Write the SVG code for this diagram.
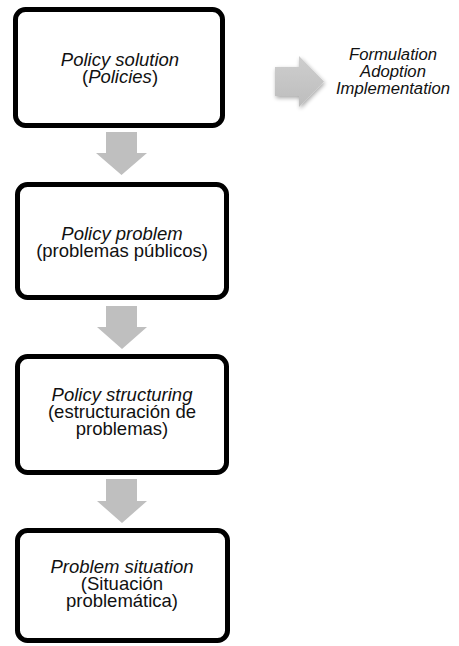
<svg xmlns="http://www.w3.org/2000/svg" width="459" height="646" viewBox="0 0 459 646">
<style>
.box{fill:#fff;stroke:#000;stroke-width:5}
.t{font-family:"Liberation Sans",Arial,sans-serif;font-size:18.5px;fill:#111;text-anchor:middle}
.r{font-family:"Liberation Sans",Arial,sans-serif;font-size:16.7px;fill:#111;text-anchor:middle;font-style:italic}
.i{font-style:italic}
.arr{fill:#bfbfbf}
</style>
<defs>
<filter id="sh" x="-30%" y="-30%" width="160%" height="160%">
<feGaussianBlur in="SourceAlpha" stdDeviation="2"/>
<feOffset dx="1" dy="2" result="b"/>
<feComponentTransfer><feFuncA type="linear" slope="0.35"/></feComponentTransfer>
<feMerge><feMergeNode/><feMergeNode in="SourceGraphic"/></feMerge>
</filter>
<linearGradient id="g" x1="0" y1="0" x2="0" y2="1">
<stop offset="0" stop-color="#cecece"/>
<stop offset="1" stop-color="#bdbdbd"/>
</linearGradient>
</defs>
<g id="connectors">
<path class="arr" d="M106 132H137V153H147L121.5 175L96 153H106Z"/>
<path class="arr" d="M106 306H137V327H147L122 349L97 327H106Z"/>
<path class="arr" d="M106 479H137V501H147L122 523L97 501H106Z"/>
<path fill="url(#g)" filter="url(#sh)" d="M275 67H299V56L324 81.5L299 107V96H275Z"/>
</g>
<g id="node1">
<rect class="box" x="15.5" y="9.5" width="207" height="116" rx="10"/>
<text class="t" x="120" y="66"><tspan class="i">Policy solution</tspan><tspan x="120" dy="17">(<tspan class="i">Policies</tspan>)</tspan></text>
</g>
<g id="node2">
<rect class="box" x="17.5" y="184.5" width="209" height="113" rx="10"/>
<text class="t" x="122" y="239.5"><tspan class="i">Policy problem</tspan><tspan x="122" dy="17">(problemas públicos)</tspan></text>
</g>
<g id="node3">
<rect class="box" x="17.5" y="356.5" width="209" height="116" rx="10"/>
<text class="t" x="122" y="400.5"><tspan class="i">Policy structuring</tspan><tspan x="122" dy="17">(estructuración de</tspan><tspan x="122" dy="17">problemas)</tspan></text>
</g>
<g id="node4">
<rect class="box" x="17.5" y="530.5" width="210" height="110" rx="10"/>
<text class="t" x="122" y="572.5"><tspan class="i">Problem situation</tspan><tspan x="122" dy="17">(Situación</tspan><tspan x="122" dy="17">problemática)</tspan></text>
</g>
<g id="stages">
<text class="r" x="393" y="60"><tspan x="393">Formulation</tspan><tspan x="393" dy="17">Adoption</tspan><tspan x="393" dy="17">Implementation</tspan></text>
</g>
</svg>
